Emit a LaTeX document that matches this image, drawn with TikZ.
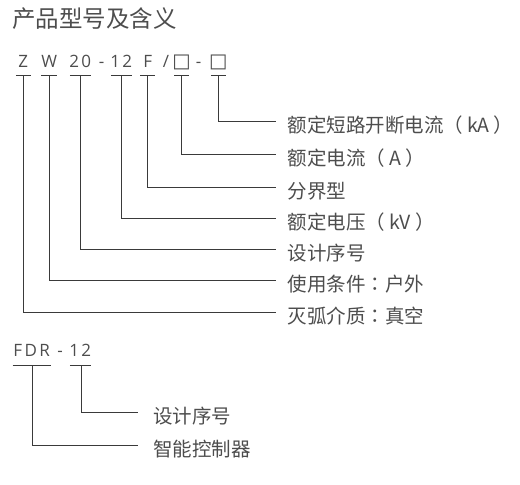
\documentclass[tikz,border=0pt]{standalone}
\usepackage{fontspec}
\setmainfont{Noto Sans CJK SC}
\newfontfamily\cjk{Noto Sans CJK SC}
\newfontfamily\cjkjp{Noto Sans CJK JP}
\newfontfamily\latn[LetterSpace=14]{Open Sans}
\newfontfamily\symf{DejaVu Sans}
\newcommand{\cln}{{\cjkjp ：}}
\definecolor{txt}{HTML}{4D4D4D}
\definecolor{ln}{HTML}{3A3A3A}
\begin{document}
\begin{tikzpicture}[x=1pt,y=-1pt,
  tok/.style={anchor=base,inner xsep=0pt,inner ysep=0pt,text depth=8.4pt,text=txt,font=\latn\fontsize{17}{17}\selectfont},
  sq/.style={tok,font=\symf\fontsize{19.5}{20}\selectfont},
  lab/.style={anchor=west,inner xsep=11.8pt,inner ysep=0pt,text height=22pt,text depth=0pt,text=txt,font=\cjk\fontsize{19.5}{20}\selectfont},
  lab2/.style={lab,inner xsep=14.6pt},
  conn/.style={draw=ln,line width=0.9pt},
  ttl/.style={anchor=base west,inner sep=0pt,text=txt,font=\cjk\fontsize{23.5}{24}\selectfont}]
\useasboundingbox (0,0) rectangle (520,485);
\node[ttl] (title) at (12,27.7) {产品型号及含义};
% code line
\node[tok] (tZ) at (23.3,67.3) {Z};
\node[tok] (tW) at (49.3,67.3) {W};
\node[tok] (t20) at (80.3,67.3) {20};
\node[tok] (d1) at (101.5,67.3) {-};
\node[tok] (t12) at (121.3,67.3) {12};
\node[tok] (tF) at (147.7,67.3) {F};
\node[tok] (sl) at (166,67.3) {/};
\node[sq,text depth=8.4pt] (tA) at (181.7,67.3) {□};
\node[tok] (d2) at (198.5,67.3) {-};
\node[sq,text depth=8.4pt] (tB) at (218.3,67.3) {□};
% labels
\node[lab] (lB) at (275.7,121) {额定短路开断电流（\hspace{4pt}kA\hspace{4pt}）};
\node[lab] (lA) at (275.7,154.3) {额定电流（\hspace{4pt}A\hspace{4pt}）};
\node[lab] (lF) at (275.7,187.3) {分界型};
\node[lab] (l12) at (275.7,218.5) {额定电压（\hspace{4pt}kV\hspace{4pt}）};
\node[lab] (l20) at (275.7,249.5) {设计序号};
\node[lab] (lW) at (275.7,280.5) {使用条件\cln 户外};
\node[lab] (lZ) at (275.7,312.5) {灭弧介质\cln 真空};
% underlines
\foreach \n/\w in {tZ/7.5,tW/8,t20/10.5,t12/10.5,tF/7.5,tA/7.5,tB/7.5}
  \draw[conn] ([xshift=-\w pt]\n.south) -- ([xshift=\w pt]\n.south);
% connectors
\draw[conn] (tB.south) |- (lB.west);
\draw[conn] (tA.south) |- (lA.west);
\draw[conn] (tF.south) |- (lF.west);
\draw[conn] (t12.south) |- (l12.west);
\draw[conn] (t20.south) |- (l20.west);
\draw[conn] (tW.south) |- (lW.west);
\draw[conn] (tZ.south) |- (lZ.west);
% FDR
\node[tok,text depth=9pt] (fdr) at (31.7,356.7) {FDR};
\node[tok,text depth=9pt] (d3) at (60,356.7) {-};
\node[tok,text depth=9pt] (f12) at (80.3,356.7) {12};
\draw[conn] ([xshift=-19pt]fdr.south) -- ([xshift=19pt]fdr.south);
\draw[conn] ([xshift=-10.5pt]f12.south) -- ([xshift=10.5pt]f12.south);
\node[lab2] (m12) at (138.3,412.7) {设计序号};
\node[lab2] (mF) at (138.3,445) {智能控制器};
\draw[conn] ([xshift=1pt]f12.south) |- (m12.west);
\draw[conn] ([xshift=1pt]fdr.south) |- (mF.west);
\end{tikzpicture}
\end{document}
